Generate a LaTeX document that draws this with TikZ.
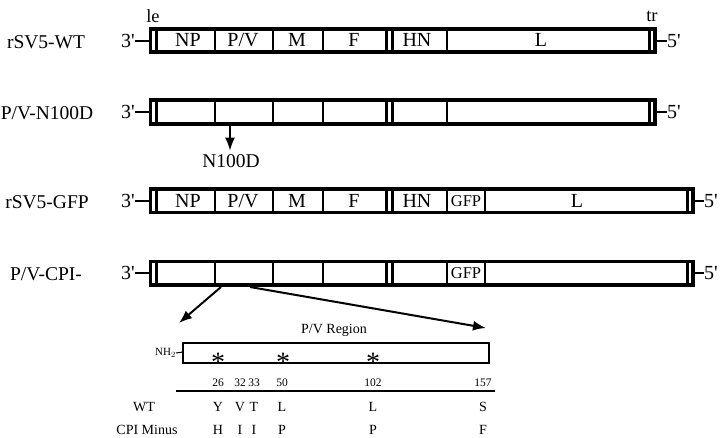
\documentclass[tikz,border=0pt]{standalone}
\usepackage{fontspec}
\setmainfont{Liberation Serif}
\usetikzlibrary{arrows.meta}
\newcommand{\pr}{\textquotesingle}
\begin{document}
\begin{tikzpicture}[x=1pt,y=-1pt,
  genbox/.style={line width=3.5pt},
  divline/.style={line width=2.8pt},
  big/.style={font=\fontsize{20}{20}\selectfont, inner sep=0pt},
  rowlab/.style={font=\fontsize{19.5}{19.5}\selectfont, inner sep=0pt},
  endlab/.style={font=\fontsize{20}{20}\selectfont, inner sep=0pt},
  gfpf/.style={font=\fontsize{16.5}{16.5}\selectfont, inner sep=0pt},
  mid/.style={font=\fontsize{14}{14}\selectfont, inner sep=0pt},
  small/.style={font=\fontsize{14}{14}\selectfont, inner sep=0pt},
  tinyf/.style={font=\fontsize{11.5}{11.5}\selectfont, inner sep=0pt},
  star/.style={font=\fontsize{28}{28}\selectfont, inner sep=0pt},
  dashl/.style={line width=1.4pt},
  arr/.style={line width=2pt, -{Latex[length=13pt,width=10pt]}}]
\useasboundingbox (0,0) rectangle (724,438);

% ---------- Row 1: rSV5-WT ----------
\draw[genbox] (150.5,29) rectangle (655,52);
\foreach \x in {156.2,215,273,323,386.5,392.5,447,649.8}
  \draw[divline] (\x,29) -- (\x,52);
\node[rowlab] (n1) at (46,42) {rSV5-WT};
\node[endlab,anchor=east] (t1) at (135,41) {3\pr};
\draw[dashl] (t1.east) -- (149,41);
\node[endlab,anchor=west] (f1) at (667,41) {5\pr};
\draw[dashl] (656,41) -- (f1.west);
\node[font=\fontsize{18.5}{18.5}\selectfont, inner sep=0pt] (le) at (153,16) {le};
\node[font=\fontsize{18.5}{18.5}\selectfont, inner sep=0pt] (tr) at (652,16) {tr};
\node[big] (np1) at (188,40) {NP};
\node[big] (pv1) at (243,40) {P/V};
\node[big] (m1) at (297,40) {M};
\node[big] (fg1) at (354,40) {F};
\node[big] (hn1) at (417,40) {HN};
\node[big] (l1) at (541,40) {L};

% ---------- Row 2: P/V-N100D ----------
\draw[genbox] (150.5,100) rectangle (655,124);
\foreach \x in {156.2,215,273,323,386.5,392.5,447,649.8}
  \draw[divline] (\x,100) -- (\x,124);
\node[rowlab] (n2) at (47,113) {P/V-N100D};
\node[endlab,anchor=east] (t2) at (135,112) {3\pr};
\draw[dashl] (t2.east) -- (149,112);
\node[endlab,anchor=west] (f2) at (667,112) {5\pr};
\draw[dashl] (656,112) -- (f2.west);
\coordinate (mutA) at (230,125);
\node[rowlab] (mut) at (231,161) {N100D};
\draw[arr] (mutA) -- ([yshift=3.5pt]mut.north -| mutA);

% ---------- Row 3: rSV5-GFP ----------
\draw[genbox] (150.5,189) rectangle (693,212.5);
\foreach \x in {156.2,215,273,323,386.5,392.5,447,485,687.5}
  \draw[divline] (\x,189) -- (\x,212.5);
\node[rowlab] (n3) at (47,202) {rSV5-GFP};
\node[endlab,anchor=east] (t3) at (135,201) {3\pr};
\draw[dashl] (t3.east) -- (149,201);
\node[endlab,anchor=west] (f3) at (704,201) {5\pr};
\draw[dashl] (694,201) -- (f3.west);
\node[big] (np3) at (188,201) {NP};
\node[big] (pv3) at (243,201) {P/V};
\node[big] (m3) at (297,201) {M};
\node[big] (fg3) at (354,201) {F};
\node[big] (hn3) at (417,201) {HN};
\node[gfpf] (g3) at (466,201) {GFP};
\node[big] (l3) at (577,201) {L};

% ---------- Row 4: P/V-CPI- ----------
\draw[genbox] (150.5,261.5) rectangle (693,285);
\foreach \x in {156.2,215,273,323,386.5,392.5,447,485,687.5}
  \draw[divline] (\x,261.5) -- (\x,285);
\node[rowlab] (n4) at (46,274) {P/V-CPI-};
\node[endlab,anchor=east] (t4) at (135,273) {3\pr};
\draw[dashl] (t4.east) -- (149,273);
\node[endlab,anchor=west] (f4) at (704,273) {5\pr};
\draw[dashl] (694,273) -- (f4.west);
\node[gfpf] (g4) at (466,273) {GFP};

\coordinate (pvL) at (221,287);
\coordinate (pvR) at (250,287);
\coordinate (tipL) at (179,323);
\coordinate (tipR) at (486,328);
\draw[arr] (pvL) -- (tipL);
\draw[arr] (pvR) -- (tipR);

% ---------- P/V region ----------
\node[small] (reg) at (334,330) {P/V Region};
\draw[line width=1.3pt] (183,343) rectangle (489,363);
\node[font=\fontsize{11}{11}\selectfont, inner sep=0pt,anchor=east] (nh) at (176,353) {NH$_2$};
\draw[line width=1pt] (nh.east) -- (183,352);
\foreach \x/\nm in {218/a1,283/a2,373/a3}
  \node[star] (\nm) at (\x,362) {*};

\draw[line width=1.2pt] (176,391) -- (495,391);
\foreach \x/\t in {218/26,240/32,254/33,282/50,373/102,483/157}
  \node[tinyf] at (\x,383) {\t};
\node[mid] (wt) at (144,407) {WT};
\node[mid] (cpi) at (147,430) {CPI Minus};
\foreach \x/\t in {218/Y,240/V,254/T,282/L,373/L,483/S}
  \node[mid] at (\x,407) {\t};
\foreach \x/\t in {218/H,240/I,254/I,282/P,373/P,483/F}
  \node[mid] at (\x,430) {\t};
\end{tikzpicture}
\end{document}
